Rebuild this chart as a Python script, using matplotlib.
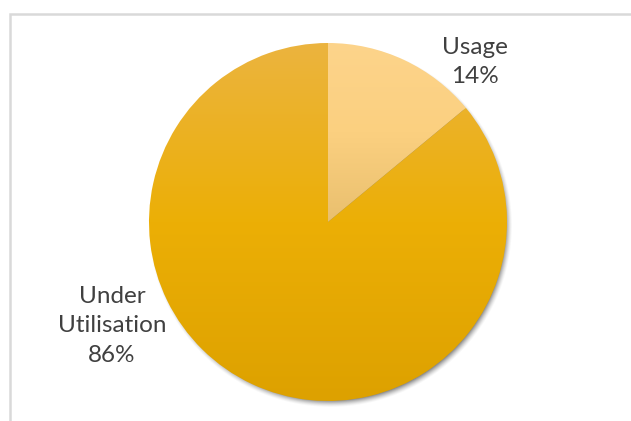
import numpy as np
import matplotlib.pyplot as plt
from matplotlib.colors import LinearSegmentedColormap
from matplotlib.patches import Rectangle

labels = ['Usage', 'Under\nUtilisation']
shares = [14, 86]

W, H = 631, 421
cx, cy, r = 328, 421 - 222, 179

fig = plt.figure(figsize=(W / 100, H / 100), dpi=100)
ax = fig.add_axes([0, 0, 1, 1])
ax.set_xlim(0, W)
ax.set_ylim(0, H)
ax.axis('off')

# chart area frame (only top and left edges show)
ax.add_patch(Rectangle((9.5, -10), W + 20, H - 13.5 + 10, fill=False,
                       edgecolor='#d9d9d9', linewidth=1.8))

# soft drop shadow under the pie
yy, xx = np.mgrid[0:H, 0:W]
d = np.hypot(xx - (cx + 2), (H - yy) - (cy - 3))
shadow = np.clip((r + 3 - d) / 7.0, 0, 1) ** 1.5
rgba = np.zeros((H, W, 4))
rgba[..., :3] = 0.25
rgba[..., 3] = shadow * 0.6
ax.imshow(rgba, extent=(0, W, 0, H), origin='upper', zorder=1)

wedges, _ = ax.pie(shares, startangle=90, counterclock=False,
                   center=(cx, cy), radius=r, frame=True,
                   wedgeprops=dict(linewidth=0, alpha=0))
ax.set_xlim(0, W)
ax.set_ylim(0, H)
ax.set_aspect('equal')
ax.axis('off')

grads = [
    LinearSegmentedColormap.from_list('use', ['#e9bf6e', '#fbd080', '#fdd48b']),
    LinearSegmentedColormap.from_list('under', ['#dda100', '#ecaf06', '#ebb43f']),
]
g = np.linspace(0, 1, 256).reshape(-1, 1)
for w, cm in zip(wedges, grads):
    if cm.name == 'use':
        ext = (cx - 1, cx + r + 1, cy - 1, cy + r + 1)
    else:
        ext = (cx - r - 1, cx + r + 1, cy - r - 1, cy + r + 1)
    im = ax.imshow(g, extent=ext, origin='lower', cmap=cm,
                   aspect='auto', zorder=2)
    im.set_clip_path(w)

txt = dict(fontsize=17.5, color='#404040', family=['Lato', 'DejaVu Sans'],
           ha='center', va='center', linespacing=1.5, zorder=5)
ax.text(475, H - 62, f'{labels[0]}\n{shares[0]}%', **txt)
ax.text(112, H - 326, f'{labels[1]}\n{shares[1]}%', **txt)

fig.savefig('out.png', dpi=100)
